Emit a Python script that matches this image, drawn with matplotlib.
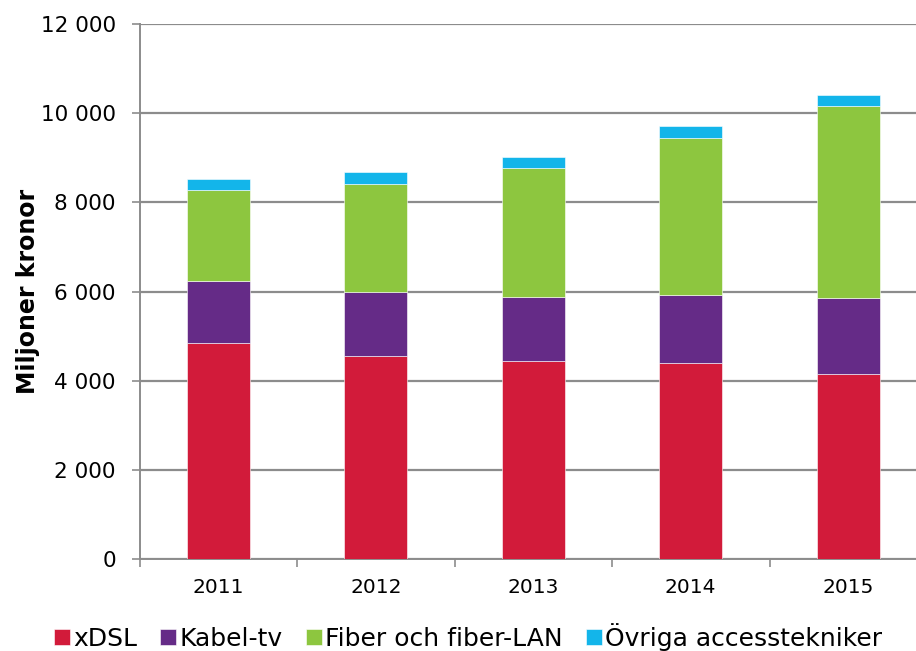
import matplotlib.pyplot as plt
import numpy as np
from matplotlib.ticker import FuncFormatter

years = ['2011', '2012', '2013', '2014', '2015']
xdsl = [4840, 4555, 4450, 4390, 4145]
kabel = [1405, 1443, 1429, 1527, 1719]
fiber = [2030, 2417, 2888, 3524, 4295]
ovriga = [253, 263, 254, 261, 254]

series = [
    ('xDSL', xdsl, '#D21B3A'),
    ('Kabel-tv', kabel, '#652B87'),
    ('Fiber och fiber-LAN', fiber, '#8DC63F'),
    ('Övriga accesstekniker', ovriga, '#13B5EA'),
]

plt.rcParams['font.family'] = ['DejaVu Sans']
grey = '#8C8C8C'

fig = plt.figure(figsize=(9.16, 6.51), dpi=100)
ax = fig.add_axes([139.5 / 916, 1 - 559 / 651, 787.5 / 916, 535 / 651])

x = np.arange(len(years))
bottom = np.zeros(len(years))
for name, vals, col in series:
    ax.bar(x, vals, 0.4, bottom=bottom, color=col, label=name, zorder=3,
           edgecolor='white', linewidth=0.4)
    bottom += np.array(vals)

ax.set_xlim(-0.5, len(years) - 0.5)
ax.set_ylim(0, 12000)
ax.set_yticks(np.arange(0, 12001, 2000))
ax.yaxis.set_major_formatter(FuncFormatter(lambda v, p: f'{int(v):,}'.replace(',', ' ')))
ax.yaxis.grid(True, color=grey, linewidth=1.6, zorder=0)

ax.set_xticks(x)
ax.set_xticklabels(years)
ax.set_xticks(np.arange(-0.5, len(years), 1), minor=True)
ax.tick_params(axis='x', which='major', length=0, pad=14, labelsize=14.5)
ax.tick_params(axis='x', which='minor', length=6, color=grey, width=1.2)
ax.tick_params(axis='y', length=6, color=grey, width=1.2, pad=11, labelsize=15.5)

for side in ['top', 'right']:
    ax.spines[side].set_visible(False)
for side in ['left', 'bottom']:
    ax.spines[side].set_color(grey)
    ax.spines[side].set_linewidth(1.4)

ax.set_ylabel('Miljoner kronor', fontsize=17, fontweight='bold')
ax.yaxis.set_label_coords(-(139.5 - 40) / 787.5, 0.5)

fig.legend(loc='center left', bbox_to_anchor=(54 / 916, 1 - 637 / 651), ncol=4,
           frameon=False, fontsize=18, handlelength=0.64, handleheight=0.64,
           handletextpad=0.15, columnspacing=0.9, borderaxespad=0, borderpad=0)

fig.savefig('out.png', dpi=100)
